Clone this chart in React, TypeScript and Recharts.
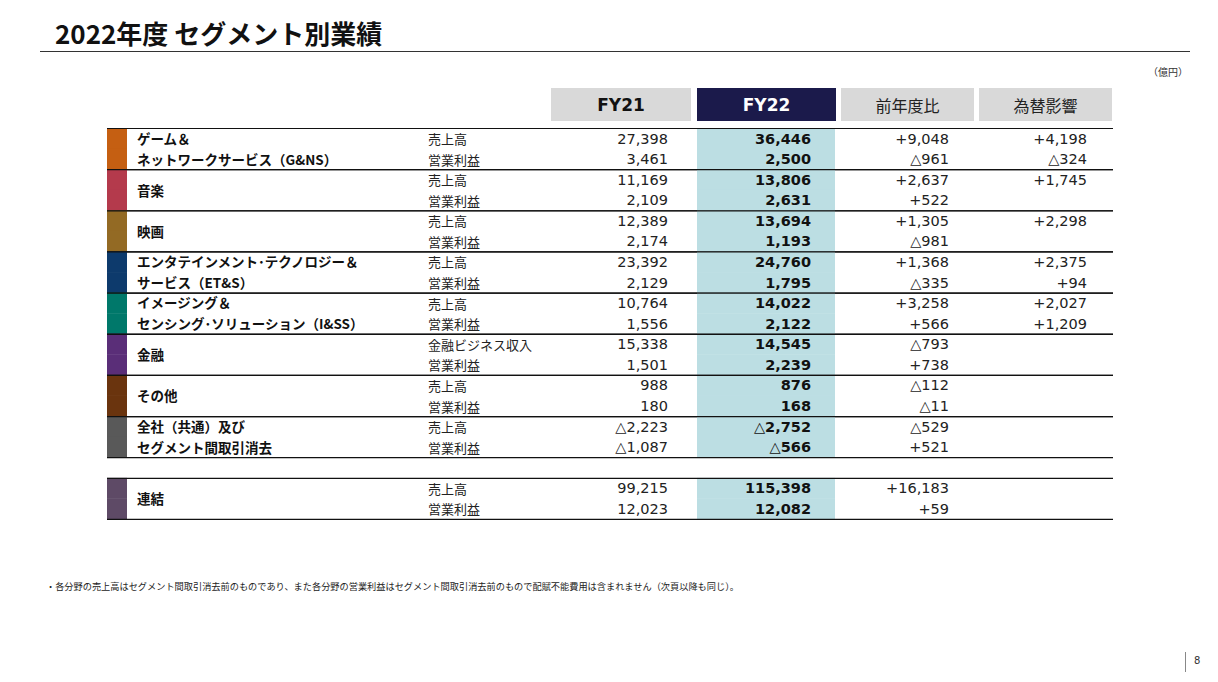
import React from "react";
import { ComposedChart, Bar, XAxis, YAxis } from "recharts";

// segment names ("\n" = line break in the label)
const segments = [
  "ゲーム＆\nネットワークサービス（G&NS）",
  "音楽",
  "映画",
  "エンタテインメント･テクノロジー＆\nサービス（ET&S）",
  "イメージング＆\nセンシング･ソリューション（I&SS）",
  "金融",
  "その他",
  "全社（共通）及び\nセグメント間取引消去",
  "連結",
];
const segmentColors = [
  "#c55f12",
  "#b43a4c",
  "#936a24",
  "#0d3a6c",
  "#00786a",
  "#5a2e78",
  "#6a340e",
  "#595959",
  "#5e4a66",
];
const subLabels = [
  ["売上高", "営業利益"],
  ["売上高", "営業利益"],
  ["売上高", "営業利益"],
  ["売上高", "営業利益"],
  ["売上高", "営業利益"],
  ["金融ビジネス収入", "営業利益"],
  ["売上高", "営業利益"],
  ["売上高", "営業利益"],
  ["売上高", "営業利益"],
];

const columns = ["FY21", "FY22", "前年度比", "為替影響"];

const fy21 = [27398, 3461, 11169, 2109, 12389, 2174, 23392, 2129, 10764, 1556, 15338, 1501, 988, 180, -2223, -1087, 99215, 12023];
const fy22 = [36446, 2500, 13806, 2631, 13694, 1193, 24760, 1795, 14022, 2122, 14545, 2239, 876, 168, -2752, -566, 115398, 12082];
const yoy = [9048, -961, 2637, 522, 1305, -981, 1368, -335, 3258, 566, -793, 738, -112, -11, -529, 521, 16183, 59];
const fxImpact: (number | null)[] = [4198, -324, 1745, null, 2298, null, 2375, 94, 2027, 1209, null, null, null, null, null, null, null, null];

const fmt = (v: number | null, sign = false) => {
  if (v === null) return "";
  const s = Math.abs(v).toLocaleString("en-US");
  if (v < 0) return "△" + s;
  return sign ? "+" + s : s;
};

// rows for the band scale: 2 per segment, one empty row before 連結
type Row = { id: string; span: number; seg: number; sub: number; gap?: boolean; i: number };
const rows: Row[] = [];
segments.forEach((_, s) => {
  if (s === segments.length - 1) rows.push({ id: "gap", span: 1, seg: -1, sub: -1, gap: true, i: -1 });
  [0, 1].forEach((k) => rows.push({ id: `${s}-${k}`, span: 1, seg: s, sub: k, i: s * 2 + k }));
});

const JP = "'Noto Sans CJK JP', 'Noto Sans', sans-serif";
const NUM = "'DejaVu Sans', Verdana, sans-serif";
const INK = "#222";

const LEFT = 107;
const RIGHT = 1113;

const RowShape = (props: any) => {
  const { y, height, payload } = props;
  if (!payload || payload.gap) return <g />;
  const { seg, sub, i } = payload as Row;
  const mid = y + height / 2;
  const name = segments[seg].split("\n");
  return (
    <g>
      <rect x={LEFT} y={y} width={20} height={height} fill={segmentColors[seg]} />
      <rect x={697} y={y} width={138} height={height} fill="#bcdee3" />
      {sub === 0 && <line x1={LEFT} x2={RIGHT} y1={y + 0.5} y2={y + 0.5} stroke="#111" strokeWidth={1.2} />}
      {sub === 1 && <line x1={LEFT} x2={RIGHT} y1={y + height} y2={y + height} stroke="#111" strokeWidth={1.2} />}
      {sub === 0 &&
        name.map((ln, k) => (
          <text
            key={k}
            x={137}
            y={name.length === 1 ? y + height - 0.5 : mid + k * height - 1}
            dominantBaseline="central"
            fontFamily={JP}
            fontWeight={700}
            fontSize={13.5}
            fill="#111"
          >
            {ln}
          </text>
        ))}
      <text x={428} y={mid} dominantBaseline="central" fontFamily={JP} fontSize={13} fill={INK}>
        {subLabels[seg][sub]}
      </text>
      <text x={668} y={mid} dominantBaseline="central" textAnchor="end" fontFamily={NUM} fontSize={14.5} fill={INK}>
        {fmt(fy21[i])}
      </text>
      <text x={811} y={mid} dominantBaseline="central" textAnchor="end" fontFamily={NUM} fontWeight={700} fontSize={14.5} fill="#111">
        {fmt(fy22[i])}
      </text>
      <text x={949} y={mid} dominantBaseline="central" textAnchor="end" fontFamily={NUM} fontSize={14.5} fill={INK}>
        {fmt(yoy[i], true)}
      </text>
      <text x={1087} y={mid} dominantBaseline="central" textAnchor="end" fontFamily={NUM} fontSize={14.5} fill={INK}>
        {fmt(fxImpact[i], true)}
      </text>
    </g>
  );
};

const headerCells = [
  { left: 551, width: 140, bg: "#d9d9d9", color: "#111", bold: true },
  { left: 697, width: 139, bg: "#1b1a4b", color: "#fff", bold: true },
  { left: 841, width: 133, bg: "#d9d9d9", color: "#222", bold: false },
  { left: 979, width: 133, bg: "#d9d9d9", color: "#222", bold: false },
];

export default function App() {
  return (
    <div style={{ position: "absolute", left: 0, top: 0, width: 1218, height: 682, background: "#fff", fontFamily: JP }}>
      <div style={{ position: "absolute", left: 55, top: 16, fontSize: 26, fontWeight: 700, color: "#111", lineHeight: "34px" }}>
        2022年度 セグメント別業績
      </div>
      <div style={{ position: "absolute", left: 40, top: 51, width: 1150, height: 1, background: "#333" }} />
      <div style={{ position: "absolute", left: 1148, top: 64, fontSize: 10, color: "#333" }}>（億円）</div>

      {columns.map((c, k) => {
        const h = headerCells[k];
        return (
          <div
            key={c}
            style={{
              position: "absolute",
              left: h.left,
              top: 88,
              width: h.width,
              height: 33,
              background: h.bg,
              color: h.color,
              display: "flex",
              alignItems: "center",
              justifyContent: "center",
              fontFamily: h.bold ? NUM : JP,
              fontWeight: h.bold ? 700 : 400,
              fontSize: h.bold ? 17 : 16,
            }}
          >
            {c}
          </div>
        );
      })}

      <div style={{ position: "absolute", left: 0, top: 0 }}>
        <ComposedChart
          width={1218}
          height={682}
          data={rows}
          layout="vertical"
          margin={{ top: 128, right: 0, bottom: 163, left: 0 }}
          barCategoryGap={0}
          barGap={0}
        >
          <XAxis type="number" domain={[0, 1]} hide />
          <YAxis type="category" dataKey="id" hide />
          <Bar dataKey="span" isAnimationActive={false} shape={(p: any) => <RowShape {...p} />} />
        </ComposedChart>
      </div>

      <div style={{ position: "absolute", left: 46, top: 579, fontSize: 9.2, color: "#222", whiteSpace: "nowrap" }}>
        ・各分野の売上高はセグメント間取引消去前のものであり、また各分野の営業利益はセグメント間取引消去前のもので配賦不能費用は含まれません（次頁以降も同じ）。
      </div>
      <div style={{ position: "absolute", left: 1185, top: 652, width: 1, height: 20, background: "#888" }} />
      <div style={{ position: "absolute", left: 1194, top: 655, fontSize: 10, color: "#333", fontFamily: NUM }}>8</div>
    </div>
  );
}
